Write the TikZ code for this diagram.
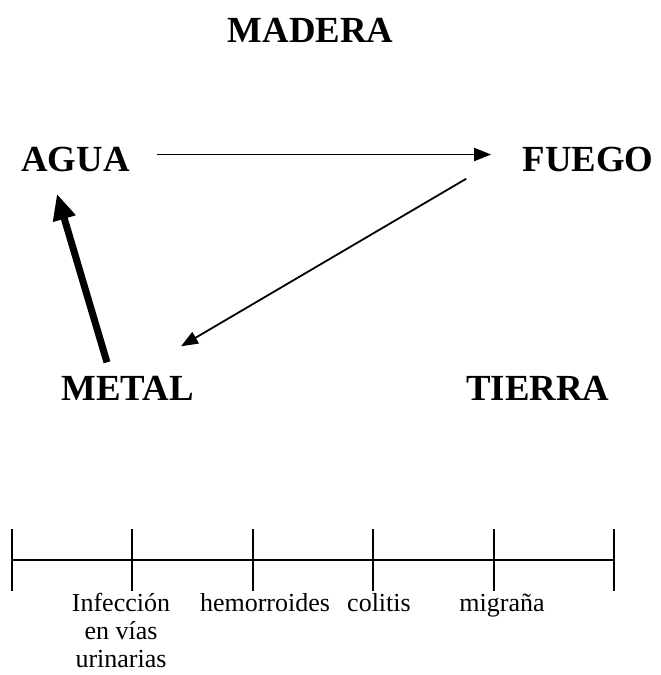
\documentclass[tikz,border=0pt]{standalone}
\usepackage{fontspec}
\setmainfont{Liberation Serif}
\usetikzlibrary{arrows.meta}

\begin{document}
\begin{tikzpicture}[x=0.5pt, y=-0.5pt,
		elemento/.style={inner sep=0pt, anchor=base, font=\fontsize{18.4}{22}\selectfont\bfseries},
		mal/.style={inner sep=0pt, anchor=base, align=center, font=\fontsize{13}{14}\selectfont},
		flecha/.style={line width=0.9pt, -{Triangle[length=8.5pt, width=6.5pt]}},
		gruesa/.style={line width=3.5pt, -{Triangle[length=13pt, width=11pt]}}]
		\useasboundingbox (0,0) rectangle (660,675);
		
		% los cinco elementos
		\node[elemento] (madera) at (310.5, 42) {MADERA};
		\node[elemento] (agua) at (75.5, 171) {AGUA};
		\node[elemento] (fuego) at (588, 171) {FUEGO};
		\node[elemento] (metal) at (127.5, 400) {METAL};
		\node[elemento] (tierra) at (538, 400) {TIERRA};
		
		\draw[flecha] ([xshift=13.5pt, yshift=2.25pt]agua.east) -- ([xshift=-15.5pt, yshift=2.25pt]fuego.west);
		\draw[flecha] ([xshift=-28pt, yshift=-3.5pt]fuego.south west) -- ([xshift=-6.5pt, yshift=14.5pt]metal.north east);
		\draw[gruesa] ([xshift=23pt, yshift=6.5pt]metal.north west) -- ([xshift=18pt, yshift=-11pt]agua.south west);
		
		% regla
		\foreach \i/\x in {0/12, 1/132, 2/253, 3/373, 4/494, 5/614}
		{
			\coordinate (t\i) at (\x, 560);
			\draw[line width=1pt] (\x, 529) -- (\x, 591);
		}
		\draw[line width=1.2pt] (t0) -- (t5);
		
		\node[mal] (infeccion) at (121, 667) {Infección\\en vías\\urinarias};
		\node[mal] (hemorroides) at (265, 611) {hemorroides};
		\node[mal] (colitis) at (379, 611) {colitis};
		\node[mal] (migrana) at (502, 611) {migraña};
	\end{tikzpicture}
\end{document}
